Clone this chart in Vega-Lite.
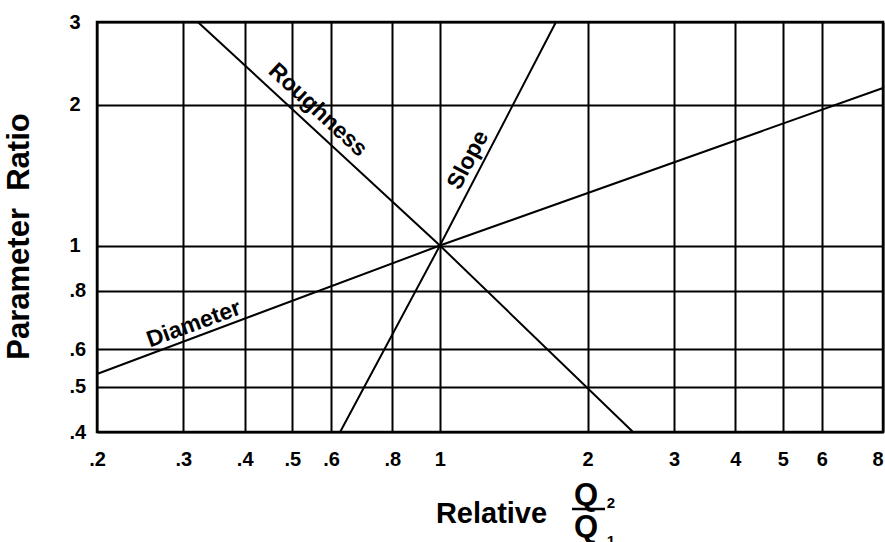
{
  "$schema": "https://vega.github.io/schema/vega-lite/v6.json",
  "width": 786,
  "height": 410,
  "autosize": {"type": "none"},
  "padding": {"left": 97, "top": 22, "right": 2, "bottom": 110},
  "background": "white",
  "config": {
    "view": {"stroke": "#000", "strokeWidth": 2.5},
    "font": "Liberation Sans",
    "text": {"font": "Liberation Sans", "fontWeight": "bold", "color": "#000"},
    "axis": {
      "labelFont": "Liberation Sans", "labelFontWeight": "bold", "labelFontSize": 20, "labelColor": "#000",
      "ticks": false, "grid": true, "gridColor": "#000", "gridWidth": 2, "gridOpacity": 1,
      "domain": false, "labelFlush": false, "labelOverlap": false, "labelBound": false,
      "titleFont": "Liberation Sans", "titleFontWeight": "bold", "titleColor": "#000"
    }
  },
  "datasets": {
    "lines": [
      {"series": "Roughness", "q": 0.321, "r": 3},
      {"series": "Roughness", "q": 1, "r": 1},
      {"series": "Roughness", "q": 2.475, "r": 0.4},
      {"series": "Slope", "q": 0.626, "r": 0.4},
      {"series": "Slope", "q": 1, "r": 1},
      {"series": "Slope", "q": 1.724, "r": 3},
      {"series": "Diameter", "q": 0.2, "r": 0.532},
      {"series": "Diameter", "q": 1, "r": 1},
      {"series": "Diameter", "q": 8, "r": 2.169}
    ],
    "labels": [
      {"label": "Roughness", "q": 0.564, "r": 1.947},
      {"label": "Slope", "q": 1.141, "r": 1.523},
      {"label": "Diameter", "q": 0.315, "r": 0.68}
    ],
    "big": [
      {"t": "Q", "q": 1.985, "r": 0.2794},
      {"t": "Q", "q": 1.985, "r": 0.2387}
    ],
    "small": [
      {"t": "2", "q": 2.232, "r": 0.2753},
      {"t": "1", "q": 2.232, "r": 0.2284}
    ],
    "bar": [
      {"q": 1.859, "q2": 2.17, "r": 0.274}
    ]
  },
  "layer": [
    {
      "data": {"name": "lines"},
      "mark": {"type": "line", "color": "#000", "strokeWidth": 2},
      "encoding": {
        "x": {
          "field": "q", "type": "quantitative",
          "scale": {"type": "log", "domain": [0.2, 8], "nice": false},
          "axis": {
            "values": [0.2, 0.3, 0.4, 0.5, 0.6, 0.8, 1, 2, 3, 4, 5, 6, 8],
            "labelExpr": "datum.value < 1 ? replace(format(datum.value, '.1f'), '0.', '.') : format(datum.value, 'd')",
            "labelPadding": 17, "labelBaseline": "top",
            "labelAlign": {"expr": "datum.value == 8 ? 'right' : 'center'"},
            "title": "Relative", "titleFontSize": 29,
            "titleX": 394, "titleY": 90, "titleBaseline": "alphabetic", "titleAlign": "center"
          }
        },
        "y": {
          "field": "r", "type": "quantitative",
          "scale": {"type": "log", "domain": [0.4, 3], "nice": false},
          "axis": {
            "values": [0.4, 0.5, 0.6, 0.8, 1, 2, 3],
            "labelExpr": "datum.value < 1 ? replace(format(datum.value, '.1f'), '0.', '.') : format(datum.value, 'd')",
            "labelPadding": 28, "labelAlign": "left", "labelBaseline": "middle",
            "title": "Parameter\u00a0 Ratio", "titleFontSize": 31,
            "titleAngle": -90, "titleX": -78, "titleY": 214, "titleBaseline": "middle", "titleAlign": "center"
          }
        },
        "detail": {"field": "series"}
      }
    },
    {
      "data": {"name": "labels"},
      "transform": [{"filter": "datum.label == 'Roughness'"}],
      "mark": {"type": "text", "angle": 43, "fontSize": 23, "align": "center", "baseline": "middle"},
      "encoding": {
        "x": {"field": "q", "type": "quantitative", "scale": {"type": "log", "domain": [0.2, 8], "nice": false}},
        "y": {"field": "r", "type": "quantitative", "scale": {"type": "log", "domain": [0.4, 3], "nice": false}},
        "text": {"field": "label"}
      }
    },
    {
      "data": {"name": "labels"},
      "transform": [{"filter": "datum.label == 'Slope'"}],
      "mark": {"type": "text", "angle": -62, "fontSize": 23, "align": "center", "baseline": "middle"},
      "encoding": {
        "x": {"field": "q", "type": "quantitative", "scale": {"type": "log", "domain": [0.2, 8], "nice": false}},
        "y": {"field": "r", "type": "quantitative", "scale": {"type": "log", "domain": [0.4, 3], "nice": false}},
        "text": {"field": "label"}
      }
    },
    {
      "data": {"name": "labels"},
      "transform": [{"filter": "datum.label == 'Diameter'"}],
      "mark": {"type": "text", "angle": -20, "fontSize": 23, "align": "center", "baseline": "middle"},
      "encoding": {
        "x": {"field": "q", "type": "quantitative", "scale": {"type": "log", "domain": [0.2, 8], "nice": false}},
        "y": {"field": "r", "type": "quantitative", "scale": {"type": "log", "domain": [0.4, 3], "nice": false}},
        "text": {"field": "label"}
      }
    },
    {
      "data": {"name": "big"},
      "mark": {"type": "text", "fontSize": 31, "align": "center", "baseline": "alphabetic"},
      "encoding": {
        "x": {"field": "q", "type": "quantitative", "scale": {"type": "log", "domain": [0.2, 8], "nice": false}},
        "y": {"field": "r", "type": "quantitative", "scale": {"type": "log", "domain": [0.4, 3], "nice": false}},
        "text": {"field": "t"}
      }
    },
    {
      "data": {"name": "small"},
      "mark": {"type": "text", "fontSize": 15, "align": "center", "baseline": "alphabetic"},
      "encoding": {
        "x": {"field": "q", "type": "quantitative", "scale": {"type": "log", "domain": [0.2, 8], "nice": false}},
        "y": {"field": "r", "type": "quantitative", "scale": {"type": "log", "domain": [0.4, 3], "nice": false}},
        "text": {"field": "t"}
      }
    },
    {
      "data": {"name": "bar"},
      "mark": {"type": "rule", "color": "#000", "strokeWidth": 2.5},
      "encoding": {
        "x": {"field": "q", "type": "quantitative", "scale": {"type": "log", "domain": [0.2, 8], "nice": false}},
        "x2": {"field": "q2"},
        "y": {"field": "r", "type": "quantitative", "scale": {"type": "log", "domain": [0.4, 3], "nice": false}}
      }
    }
  ]
}
